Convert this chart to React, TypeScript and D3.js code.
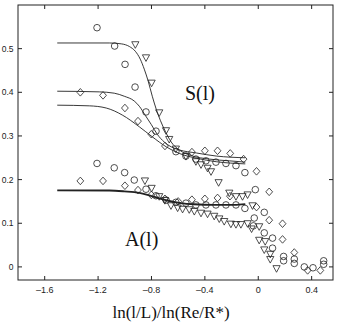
import React from 'react';
import * as d3 from 'd3';

// axis ticks
const xTicks = [-1.6, -1.2, -0.8, -0.4, 0, 0.4];
const yTicks = [0, 0.1, 0.2, 0.3, 0.4, 0.5];

// open circles [x, y]
const circlePts = [
  [-1.208, 0.548], [-1.076, 0.506], [-0.998, 0.464], [-0.923, 0.412], [-0.841, 0.355], [-0.766, 0.311],
  [-0.617, 0.264], [-0.542, 0.254], [-0.467, 0.247], [-0.392, 0.243], [-0.317, 0.24], [-0.242, 0.237],
  [-0.167, 0.232], [-0.1, 0.216],
  [-1.208, 0.237], [-1.079, 0.227], [-1.001, 0.216], [-0.929, 0.199], [-0.841, 0.178], [-0.766, 0.163],
  [-0.69, 0.153], [-0.617, 0.148], [-0.542, 0.146], [-0.467, 0.142], [-0.392, 0.142], [-0.317, 0.142],
  [-0.242, 0.142], [-0.167, 0.142], [-0.1, 0.134],
  [-0.022, 0.177], [-0.03, 0.112], [0.045, 0.125], [-0.037, 0.094], [0.045, 0.078], [0.107, 0.066],
  [0.107, 0.043], [0.19, 0.024], [0.19, 0.014], [0.27, 0.018], [0.27, 0.008], [0.345, 0.0],
  [0.41, -0.002], [0.49, 0.014], [0.49, 0.006],
];

// open diamonds
const diamondPts = [
  [-1.333, 0.4], [-1.163, 0.393], [-0.999, 0.364], [-0.901, 0.334], [-0.801, 0.304], [-0.699, 0.277],
  [-0.497, 0.263], [-0.4, 0.266], [-0.305, 0.266], [-0.21, 0.26], [-0.11, 0.247], [-0.013, 0.219],
  [0.082, 0.172],
  [-1.333, 0.197], [-1.163, 0.197], [-0.999, 0.186], [-0.901, 0.176], [-0.801, 0.165], [-0.699, 0.156],
  [-0.6, 0.15], [-0.497, 0.154], [-0.4, 0.156], [-0.305, 0.158], [-0.212, 0.162],
  [-0.013, 0.137], [0.082, 0.107], [0.182, 0.099], [0.182, 0.063], [0.27, 0.033], [0.37, -0.008],
  [0.465, -0.008],
];

// open down-triangles
const trianglePts = [
  [-0.921, 0.509], [-0.841, 0.479], [-0.799, 0.421], [-0.742, 0.353], [-0.691, 0.312], [-0.667, 0.292],
  [-0.617, 0.27], [-0.542, 0.253], [-0.467, 0.241], [-0.429, 0.234], [-0.38, 0.226], [-0.354, 0.218],
  [-0.297, 0.193], [-0.217, 0.169], [-0.167, 0.161], [-0.118, 0.161], [-0.08, 0.165],
  [-0.849, 0.197], [-0.799, 0.18], [-0.742, 0.161], [-0.7, 0.152], [-0.654, 0.14], [-0.604, 0.135],
  [-0.567, 0.132], [-0.517, 0.131], [-0.479, 0.127], [-0.429, 0.123], [-0.38, 0.121], [-0.33, 0.116],
  [-0.292, 0.11], [-0.255, 0.104], [-0.205, 0.098], [-0.167, 0.097], [-0.13, 0.097], [-0.08, 0.099],
  [-0.043, 0.14], [-0.05, 0.087], [0.007, 0.092], [0.007, 0.061], [0.052, 0.058], [0.045, 0.039],
  [0.09, 0.029], [0.09, 0.017], [0.137, -0.004],
];

// fitted curves
const sCurveTop = [
  [-1.506, 0.513], [-1.116, 0.513], [-1.026, 0.511], [-0.966, 0.505], [-0.921, 0.494], [-0.884, 0.476],
  [-0.854, 0.453], [-0.824, 0.425], [-0.794, 0.391], [-0.764, 0.361], [-0.734, 0.336], [-0.697, 0.311],
  [-0.652, 0.286], [-0.592, 0.268], [-0.502, 0.255], [-0.367, 0.247], [-0.217, 0.243], [-0.097, 0.24],
];
const sCurveMid = [
  [-1.506, 0.4025], [-1.191, 0.401], [-1.079, 0.398], [-1.004, 0.391], [-0.929, 0.38], [-0.891, 0.368],
  [-0.846, 0.347], [-0.801, 0.326], [-0.757, 0.304], [-0.704, 0.286], [-0.652, 0.275], [-0.592, 0.268],
  [-0.464, 0.261], [-0.315, 0.254], [-0.097, 0.25],
];
const sCurveLow = [
  [-1.506, 0.3705], [-1.266, 0.369], [-1.139, 0.364], [-1.019, 0.348], [-0.891, 0.321], [-0.794, 0.298],
  [-0.689, 0.275], [-0.592, 0.26], [-0.464, 0.249], [-0.315, 0.241], [-0.097, 0.236],
];
const aCurve = [
  [-1.506, 0.1753], [-1.116, 0.1749], [-1.004, 0.173], [-0.891, 0.1696], [-0.816, 0.164], [-0.742, 0.157],
  [-0.667, 0.151], [-0.592, 0.1468], [-0.479, 0.1434], [-0.33, 0.1422], [-0.18, 0.1422], [-0.097, 0.1438],
];

const W = 342;
const H = 329;
const left = 18, right = 333, top = 5, bottom = 280;

const x = d3.scaleLinear().domain([-1.8, 0.56]).range([left, right]);
const y = d3.scaleLinear().domain([-0.03, 0.6]).range([bottom, top]);

const line = d3.line<number[]>()
  .x((d) => x(d[0]))
  .y((d) => y(d[1]))
  .curve(d3.curveMonotoneX);

const ink = '#222';
const fmt = (v: number) => (v < 0 ? '\u2013' + Math.abs(v) : String(v));

function diamond(cx: number, cy: number) {
  const a = 3.4, b = 3.8;
  return `M${cx},${cy - b}L${cx + a},${cy}L${cx},${cy + b}L${cx - a},${cy}Z`;
}

function triangle(cx: number, cy: number) {
  return `M${cx - 3.6},${cy - 3}L${cx + 3.6},${cy - 3}L${cx},${cy + 3.6}Z`;
}

export default function App() {
  return (
    <svg width={W} height={H} style={{position: 'absolute', left: 0, top: 0, background: '#fff'}}>
      {/* curves */}
      <path d={line(sCurveTop) || ''} fill="none" stroke={ink} strokeWidth={0.9}/>
      <path d={line(sCurveMid) || ''} fill="none" stroke={ink} strokeWidth={0.9}/>
      <path d={line(sCurveLow) || ''} fill="none" stroke={ink} strokeWidth={0.9}/>
      <path d={line(aCurve) || ''} fill="none" stroke={ink} strokeWidth={1.9}/>

      {/* markers */}
      {circlePts.map((d, i) => (
        <circle key={'c' + i} cx={x(d[0])} cy={y(d[1])} r={3.3} fill="none" stroke={ink} strokeWidth={0.8}/>
      ))}
      {diamondPts.map((d, i) => (
        <path key={'d' + i} d={diamond(x(d[0]), y(d[1]))} fill="none" stroke={ink} strokeWidth={0.8}/>
      ))}
      {trianglePts.map((d, i) => (
        <path key={'t' + i} d={triangle(x(d[0]), y(d[1]))} fill="none" stroke={ink} strokeWidth={0.8}/>
      ))}

      {/* box */}
      <rect x={left} y={top} width={right - left} height={bottom - top} fill="none" stroke={ink} strokeWidth={1}/>

      {/* ticks, inward on all sides */}
      {xTicks.map((t) => (
        <g key={'xt' + t}>
          <line x1={x(t)} x2={x(t)} y1={bottom} y2={bottom - 4} stroke={ink}/>
          <line x1={x(t)} x2={x(t)} y1={top} y2={top + 4} stroke={ink}/>
          <text x={x(t)} y={293} textAnchor="middle" fontFamily="Liberation Sans, Arial, sans-serif"
                fontSize={9} fill={ink}>{fmt(t)}</text>
        </g>
      ))}
      {yTicks.map((t) => (
        <g key={'yt' + t}>
          <line x1={left} x2={left + 4} y1={y(t)} y2={y(t)} stroke={ink}/>
          <line x1={right} x2={right - 4} y1={y(t)} y2={y(t)} stroke={ink}/>
          <text x={13.5} y={y(t) + 3} textAnchor="end" fontFamily="Liberation Sans, Arial, sans-serif"
                fontSize={8.5} fill={ink}>{fmt(t)}</text>
        </g>
      ))}

      {/* labels */}
      <text x={185} y={100} fontFamily="Liberation Serif, Times New Roman, serif" fontSize={20} fill="#111">S(l)</text>
      <text x={125} y={246} fontFamily="Liberation Serif, Times New Roman, serif" fontSize={20} fill="#111">A(l)</text>
      <text x={171} y={318} textAnchor="middle" fontFamily="Liberation Serif, Times New Roman, serif"
            fontSize={17} fill="#111">ln(l/L)/ln(Re/R*)</text>
    </svg>
  );
}
